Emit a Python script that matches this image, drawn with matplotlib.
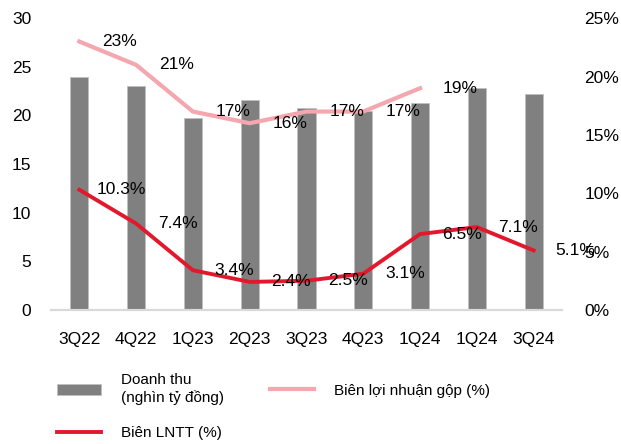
import matplotlib.pyplot as plt
import numpy as np

plt.rcParams['font.family'] = ['Liberation Sans Narrow', 'Liberation Sans', 'DejaVu Sans']

quarters = ['3Q22', '4Q22', '1Q23', '2Q23', '3Q23', '4Q23', '1Q24', '1Q24', '3Q24']
doanh_thu = [24.0, 23.0, 19.7, 21.6, 20.8, 20.5, 21.3, 22.8, 22.2]
bien_gop = [23, 21, 17, 16, 17, 17, 19]
bien_lntt = [10.3, 7.4, 3.4, 2.4, 2.5, 3.1, 6.5, 7.1, 5.1]

c_bar = '#808080'
c_gop = '#F4A7AE'
c_lntt = '#E2192C'
fs = 12.5

fig = plt.figure(figsize=(6.21, 4.44), dpi=100)
ax = fig.add_axes([0.082, 0.302, 0.823, 0.657])
ax2 = ax.twinx()

x = np.arange(len(quarters))
bars = ax.bar(x, doanh_thu, width=0.32, color=c_bar, edgecolor='#BFBFBF', linewidth=0.6,
              label='Doanh thu\n(nghìn tỷ đồng)', zorder=2)
l_gop, = ax2.plot(x[:len(bien_gop)], bien_gop, color=c_gop, lw=3, label='Biên lợi nhuận gộp (%)', zorder=3)
l_lntt, = ax2.plot(x, bien_lntt, color=c_lntt, lw=2.8, label='Biên LNTT (%)', zorder=3)

# nhãn dữ liệu lệch sang phải mỗi điểm
for xi, v in zip(x, bien_gop):
    ax2.annotate(f'{v:.0f}%', (xi, v), xytext=(29, 0), textcoords='offset points',
                 ha='center', va='center', fontsize=fs)
for xi, v in zip(x, bien_lntt):
    ax2.annotate(f'{v:.1f}%', (xi, v), xytext=(30, 0), textcoords='offset points',
                 ha='center', va='center', fontsize=fs, annotation_clip=False)

ax.set_xlim(-0.5, len(quarters) - 0.5)
ax.set_ylim(0, 30)
ax.set_yticks(range(0, 31, 5))
ax2.set_ylim(0, 25)
ax2.set_yticks(range(0, 26, 5))
ax2.set_yticklabels([f'{t}%' for t in range(0, 26, 5)])
ax.set_xticks(x)
ax.set_xticklabels(quarters)

for a in (ax, ax2):
    for s in ('top', 'left', 'right'):
        a.spines[s].set_visible(False)
    a.spines['bottom'].set_color('#D9D9D9')
    a.spines['bottom'].set_linewidth(1.5)
ax.tick_params(axis='y', length=0, pad=14, labelsize=fs)
ax.tick_params(axis='x', length=0, pad=16, labelsize=fs)
ax2.tick_params(axis='y', length=0, pad=16, labelsize=fs)

fig.legend(handles=[bars, l_lntt, l_gop], loc='upper left', bbox_to_anchor=(0.092, 0.159),
           ncol=2, frameon=False, fontsize=11, handlelength=2.9, handletextpad=1.3,
           columnspacing=3.0, labelspacing=1.4, borderpad=0, borderaxespad=0)

fig.savefig('out.png', dpi=100)
